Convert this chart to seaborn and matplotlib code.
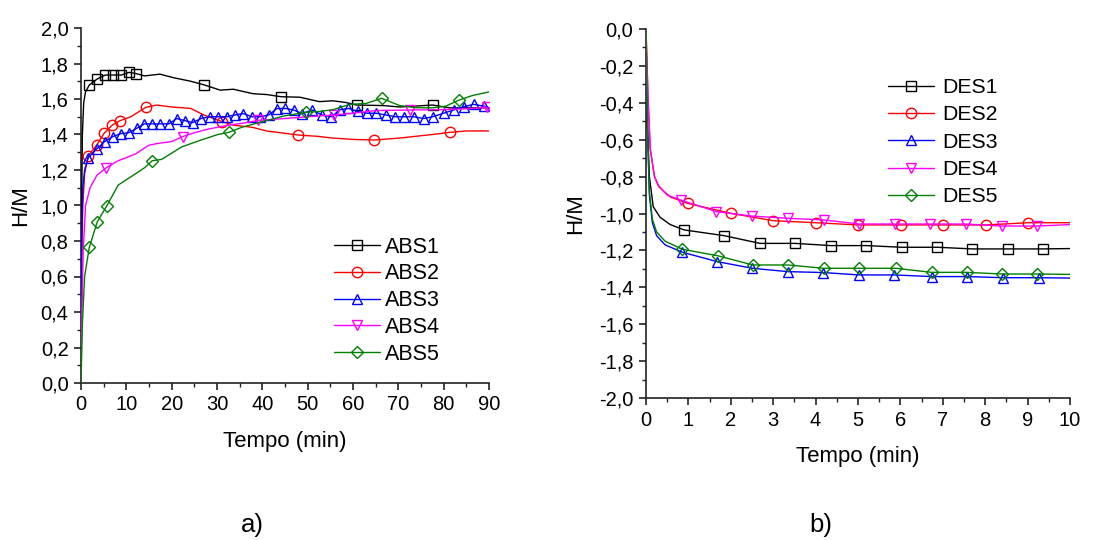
import numpy as np
import pandas as pd
import matplotlib
matplotlib.use("Agg")
import matplotlib.pyplot as plt
from matplotlib.lines import Line2D
from matplotlib.ticker import MultipleLocator, FuncFormatter
import seaborn as sns

# ---------------- absorption (a) ----------------
abs1_t = [0, 0.15, 0.3, 0.6, 1.0, 1.83, 3.6, 5.35, 7.1, 8.9, 10.6, 12.2, 14, 17.4, 20.4, 24.2, 27.1,
          30.7, 33.6, 37.9, 41, 44.1, 48.3, 52.6, 55.5, 58.5, 60.8, 66.7, 70.3, 77.6, 81.3, 90]
abs1_h = [0, 1.0, 1.4, 1.58, 1.64, 1.679, 1.713, 1.735, 1.735, 1.735, 1.75, 1.743, 1.73, 1.74, 1.72, 1.70, 1.68,
          1.65, 1.655, 1.63, 1.625, 1.613, 1.61, 1.585, 1.59, 1.58, 1.566, 1.563, 1.555, 1.566, 1.55, 1.55]
abs1_m = [1.83, 3.6, 5.35, 7.1, 8.9, 10.6, 12.2, 27.1, 44.1, 60.8, 77.6]

abs2_t = [0, 0.15, 0.4, 0.8, 1.6, 3.45, 5.1, 6.9, 8.6, 11, 14.3, 16.7, 20, 24.2, 27.1, 31.2, 33.6, 37.9,
          40.9, 44, 47.9, 52, 55.5, 60.2, 64.7, 70.3, 73.9, 77.5, 81.4, 85, 90]
abs2_h = [0, 0.7, 1.0, 1.18, 1.28, 1.34, 1.407, 1.453, 1.478, 1.50, 1.553, 1.566, 1.555, 1.547, 1.51, 1.472,
          1.453, 1.44, 1.42, 1.41, 1.397, 1.39, 1.38, 1.372, 1.369, 1.38, 1.39, 1.40, 1.412, 1.42, 1.42]
abs2_m = [1.6, 3.45, 5.1, 6.9, 8.6, 14.3, 31.2, 47.9, 64.7, 81.4]

abs3_t = [0, 0.15, 0.4, 0.8, 1.6, 3.45, 5.2, 7.0, 8.75, 10.5, 12.3, 14.0, 15.7, 17.5, 19.4, 21.1, 22.9,
          24.6, 26.5, 28.4, 30.3, 32.1, 34.0, 35.8, 37.7, 39.5, 41.4, 43.2, 45.1, 46.9, 48.8, 51.0, 53.2,
          55.2, 57.2, 59.0, 61.0, 63.0, 65.1, 67.3, 69.3, 71.3, 73.4, 75.6, 77.6, 80.0, 82.2, 84.4, 86.6,
          88.8, 90]
abs3_h = [0, 0.8, 1.1, 1.2, 1.27, 1.318, 1.36, 1.388, 1.405, 1.41, 1.435, 1.46, 1.46, 1.46, 1.46, 1.49,
          1.478, 1.467, 1.49, 1.50, 1.50, 1.50, 1.51, 1.518, 1.50, 1.50, 1.51, 1.546, 1.547, 1.538, 1.518,
          1.538, 1.51, 1.50, 1.54, 1.547, 1.53, 1.52, 1.52, 1.51, 1.50, 1.50, 1.50, 1.49, 1.50, 1.52,
          1.538, 1.556, 1.57, 1.56, 1.55]
abs3_m = abs3_t[4:-1]

abs4_t = [0, 0.2, 0.5, 1.0, 2.0, 3.5, 5.6, 8, 12, 15, 17, 20, 22.4, 25, 28, 32, 36, 39.1, 45, 50, 55.9,
          60, 65, 72.6, 80, 85, 89.5, 90]
abs4_h = [0, 0.4, 0.75, 1.0, 1.1, 1.17, 1.213, 1.25, 1.29, 1.34, 1.35, 1.36, 1.388, 1.41, 1.43, 1.45,
          1.465, 1.48, 1.49, 1.50, 1.51, 1.52, 1.535, 1.538, 1.54, 1.545, 1.553, 1.53]
abs4_m = [5.6, 22.4, 39.1, 55.9, 72.6, 89.5]

abs5_t = [0, 0.3, 0.8, 1.83, 3.6, 5.67, 8.2, 11.5, 14.1, 15.7, 17.8, 22.2, 26.6, 30.2, 32.6, 35.4, 39.7,
          44.9, 49.6, 52.7, 55.6, 59.3, 62.9, 66.3, 70.3, 73.9, 77.6, 80.5, 83.4, 86.4, 90]
abs5_h = [0, 0.33, 0.6, 0.764, 0.909, 0.997, 1.115, 1.17, 1.214, 1.252, 1.26, 1.33, 1.37, 1.40, 1.412,
          1.44, 1.47, 1.505, 1.525, 1.53, 1.54, 1.57, 1.575, 1.604, 1.563, 1.551, 1.55, 1.56, 1.594, 1.62,
          1.64]
abs5_m = [1.83, 3.6, 5.67, 15.7, 32.6, 49.6, 66.3, 83.4]

# ---------------- desorption (b) ----------------
des1_t = [0, 0.03, 0.08, 0.17, 0.33, 0.57, 0.90, 1.84, 2.69, 3.52, 4.36, 5.2, 6.03, 6.87, 7.7, 8.54, 9.37, 10]
des1_h = [0, -0.5, -0.8, -0.963, -1.02, -1.06, -1.089, -1.12, -1.162, -1.162, -1.174, -1.174, -1.183,
          -1.183, -1.192, -1.192, -1.192, -1.19]
des1_m = des1_t[6:-1]

des2_t = [0, 0.05, 0.1, 0.2, 0.3, 0.57, 0.98, 2.0, 3.0, 4.0, 5.0, 6.01, 7.01, 8.02, 9.02, 10]
des2_h = [0, -0.385, -0.65, -0.8, -0.855, -0.91, -0.945, -0.999, -1.039, -1.05, -1.062, -1.062, -1.062,
          -1.062, -1.05, -1.05]
des2_m = des2_t[6:-1]

des3_t = [0, 0.03, 0.08, 0.15, 0.25, 0.45, 0.86, 1.68, 2.51, 3.34, 4.18, 5.02, 5.86, 6.74, 7.58, 8.43, 9.27, 10]
des3_h = [0, -0.5, -0.9, -1.05, -1.12, -1.17, -1.21, -1.261, -1.297, -1.315, -1.32, -1.333, -1.333,
          -1.342, -1.342, -1.348, -1.348, -1.35]
des3_m = des3_t[6:-1]

des4_t = [0, 0.05, 0.1, 0.2, 0.3, 0.5, 0.82, 1.66, 2.5, 3.35, 4.2, 5.03, 5.87, 6.7, 7.54, 8.39, 9.21, 10]
des4_h = [0, -0.4, -0.65, -0.8, -0.85, -0.9, -0.927, -0.99, -1.014, -1.026, -1.035, -1.057, -1.057,
          -1.057, -1.057, -1.068, -1.068, -1.06]
des4_m = des4_t[6:-1]

des5_t = [0, 0.03, 0.08, 0.15, 0.25, 0.45, 0.86, 1.69, 2.52, 3.35, 4.19, 5.03, 5.89, 6.74, 7.56, 8.4, 9.23, 10]
des5_h = [0, -0.5, -0.88, -1.03, -1.1, -1.15, -1.194, -1.229, -1.279, -1.279, -1.297, -1.297, -1.297,
          -1.319, -1.319, -1.328, -1.328, -1.33]
des5_m = des5_t[6:-1]

abs_labels = ["ABS1", "ABS2", "ABS3", "ABS4", "ABS5"]
des_labels = ["DES1", "DES2", "DES3", "DES4", "DES5"]
colors = ["#000000", "#ff0000", "#0000ff", "#ff00ff", "#008000"]
markers = ["s", "o", "^", "v", "D"]
msizes = [7, 7.5, 7.5, 7.5, 6.5]

abs_series = [(abs1_t, abs1_h, abs1_m), (abs2_t, abs2_h, abs2_m), (abs3_t, abs3_h, abs3_m),
              (abs4_t, abs4_h, abs4_m), (abs5_t, abs5_h, abs5_m)]
des_series = [(des1_t, des1_h, des1_m), (des2_t, des2_h, des2_m), (des3_t, des3_h, des3_m),
              (des4_t, des4_h, des4_m), (des5_t, des5_h, des5_m)]

sns.set_style("ticks")
plt.rcParams["font.family"] = ["Liberation Sans", "DejaVu Sans"]
plt.rcParams["text.color"] = "black"
plt.rcParams["axes.labelcolor"] = "black"
plt.rcParams["xtick.labelcolor"] = "black"
plt.rcParams["ytick.labelcolor"] = "black"

fig = plt.figure(figsize=(11.02, 5.4), dpi=100)
ax1 = fig.add_axes([81 / 1102, 1 - 383 / 540, 408 / 1102, 355 / 540])
ax2 = fig.add_axes([646 / 1102, 1 - 398 / 540, 424 / 1102, 369 / 540])


def draw(ax, series, labels):
    handles = []
    for (t, h, mk), lab, c, m, ms in zip(series, labels, colors, markers, msizes):
        df = pd.DataFrame({"t": t, "h": h})
        idx = [i for i, v in enumerate(t) if v in set(mk)]
        sns.lineplot(data=df, x="t", y="h", ax=ax, color=c, linewidth=1.0, estimator=None,
                     sort=False, legend=False, marker=m, markevery=idx, markersize=ms,
                     markerfacecolor="none", markeredgecolor=c, markeredgewidth=1.0, zorder=3)
        handles.append(Line2D([0], [0], color=c, linewidth=1.0, marker=m, markersize=ms,
                              markerfacecolor="none", markeredgecolor=c, markeredgewidth=1.0,
                              label=lab))
    return handles


def comma(v, pos):
    s = f"{v:.1f}"
    if s == "-0.0":
        s = "0.0"
    return s.replace(".", ",")


h1 = draw(ax1, abs_series, abs_labels)
h2 = draw(ax2, des_series, des_labels)

ax1.set_xlim(0, 90)
ax1.set_ylim(0, 2.0)
ax1.xaxis.set_major_locator(MultipleLocator(10))
ax1.xaxis.set_minor_locator(MultipleLocator(5))
ax1.yaxis.set_major_locator(MultipleLocator(0.2))
ax1.yaxis.set_minor_locator(MultipleLocator(0.1))

ax2.set_xlim(0, 10)
ax2.set_ylim(-2.0, 0.0)
ax2.xaxis.set_major_locator(MultipleLocator(1))
ax2.xaxis.set_minor_locator(MultipleLocator(0.5))
ax2.yaxis.set_major_locator(MultipleLocator(0.2))
ax2.yaxis.set_minor_locator(MultipleLocator(0.1))

for ax in (ax1, ax2):
    ax.yaxis.set_major_formatter(FuncFormatter(comma))
    sns.despine(ax=ax)
    for side in ("left", "bottom"):
        ax.spines[side].set_linewidth(1.2)
        ax.spines[side].set_color("#222222")
    ax.tick_params(which="major", direction="out", length=5, width=1.2, labelsize=14.5,
                   color="#222222", pad=4)
    ax.tick_params(which="minor", direction="out", length=3, width=1.0, color="#222222")
    ax.set_xlabel("Tempo (min)", fontsize=16, labelpad=12)
    ax.set_ylabel("H/M", fontsize=16, labelpad=9)
    ax.set_facecolor("white")

ax1.yaxis.labelpad = 7

ax1.legend(handles=h1, loc="center left", bbox_to_anchor=(0.60, 0.232), frameon=False,
           fontsize=15.5, handlelength=2.1, handletextpad=0.25, labelspacing=0.27, borderaxespad=0)
ax2.legend(handles=h2, loc="center left", bbox_to_anchor=(0.55, 0.693), frameon=False,
           fontsize=15.3, handlelength=2.2, handletextpad=0.35, labelspacing=0.39, borderaxespad=0)

fig.text(252 / 1102, 1 - 525 / 540, "a)", fontsize=18.5, ha="center", va="center")
fig.text(821 / 1102, 1 - 525 / 540, "b)", fontsize=18.5, ha="center", va="center")

fig.savefig("out.png", dpi=100, facecolor="white")
